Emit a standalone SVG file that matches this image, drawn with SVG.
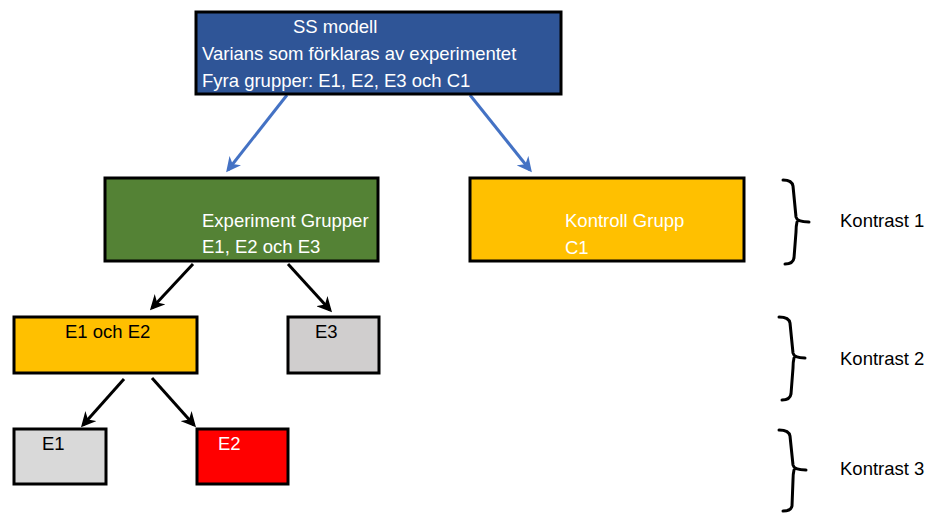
<svg xmlns="http://www.w3.org/2000/svg" width="929" height="513" viewBox="0 0 929 513">
<style>
  .box { stroke: #000; stroke-width: 3; }
  .t { font-family: "Liberation Sans", Arial, sans-serif; font-size: 18.5px; }
  .w { fill: #fff; }
  .k { fill: #000; }
  .blue { stroke: #4472C4; stroke-width: 3; fill: none; }
  .blk { stroke: #000; stroke-width: 3; fill: none; }
  .brace { stroke: #000; stroke-width: 3; fill: none; stroke-linejoin: round; stroke-linecap: round; }
</style>
<defs>
  <marker id="ab" viewBox="0 0 10 10" refX="8" refY="5" markerWidth="5" markerHeight="5" orient="auto" markerUnits="strokeWidth">
    <path d="M0,0 L10,5 L0,10 L3,5 Z" fill="#4472C4"/>
  </marker>
  <marker id="ak" viewBox="0 0 10 10" refX="8" refY="5" markerWidth="5" markerHeight="5" orient="auto" markerUnits="strokeWidth">
    <path d="M0,0 L10,5 L0,10 L3,5 Z" fill="#000"/>
  </marker>
</defs>
<rect width="929" height="513" fill="#fff"/>

<g id="connectors">
  <line class="blue" x1="287" y1="95" x2="228" y2="170" marker-end="url(#ab)"/>
  <line class="blue" x1="470" y1="95" x2="530" y2="170" marker-end="url(#ab)"/>
  <line class="blk" x1="193" y1="264" x2="152" y2="308" marker-end="url(#ak)"/>
  <line class="blk" x1="288" y1="264" x2="330" y2="310" marker-end="url(#ak)"/>
  <line class="blk" x1="124" y1="379" x2="83" y2="425" marker-end="url(#ak)"/>
  <line class="blk" x1="152" y1="378" x2="194" y2="425" marker-end="url(#ak)"/>
</g>

<g id="ss-modell">
  <rect class="box" x="196" y="12" width="365" height="82" fill="#2F5597"/>
  <text class="t w" x="293" y="33">SS modell</text>
  <text class="t w" x="202" y="60">Varians som förklaras av experimentet</text>
  <text class="t w" x="202" y="87">Fyra grupper: E1, E2, E3 och C1</text>
</g>

<g id="experiment">
  <rect class="box" x="105" y="178" width="273" height="83" fill="#548235"/>
  <text class="t w" x="202" y="227">Experiment Grupper</text>
  <text class="t w" x="202" y="253">E1, E2 och E3</text>
</g>

<g id="kontroll">
  <rect class="box" x="470" y="178" width="274" height="83" fill="#FFC000"/>
  <text class="t w" x="565" y="227">Kontroll Grupp</text>
  <text class="t w" x="565" y="254">C1</text>
</g>

<g id="e1e2">
  <rect class="box" x="14" y="317" width="183" height="56" fill="#FFC000"/>
  <text class="t k" x="65" y="338">E1 och E2</text>
</g>

<g id="e3">
  <rect class="box" x="288" y="317" width="91" height="56" fill="#D0CECE"/>
  <text class="t k" x="315" y="338">E3</text>
</g>

<g id="e1">
  <rect class="box" x="14" y="429" width="92" height="55" fill="#D9D9D9"/>
  <text class="t k" x="42" y="450">E1</text>
</g>

<g id="e2">
  <rect class="box" x="197" y="429" width="91" height="55" fill="#FF0000"/>
  <text class="t w" x="218" y="450">E2</text>
</g>

<g id="kontrast1">
  <path class="brace" d="M783,180 Q792,180 793,186 L796,217 Q797,222 809,222 M797,222 Q796,226 796,232 L794,258 Q793,264 785,264"/>
  <text class="t k" x="840" y="227">Kontrast 1</text>
</g>
<g id="kontrast2">
  <path class="brace" d="M779,317 Q789,317 790,323 L793,353 Q794,358 805,358 M794,358 Q793,362 793,368 L791,394 Q790,400 782,400"/>
  <text class="t k" x="840" y="365">Kontrast 2</text>
</g>
<g id="kontrast3">
  <path class="brace" d="M779,430 Q789,430 790,436 L793,465 Q794,470 806,470 M794,470 Q793,474 793,480 L792,506 Q791,511 783,511"/>
  <text class="t k" x="840" y="475">Kontrast 3</text>
</g>
</svg>
